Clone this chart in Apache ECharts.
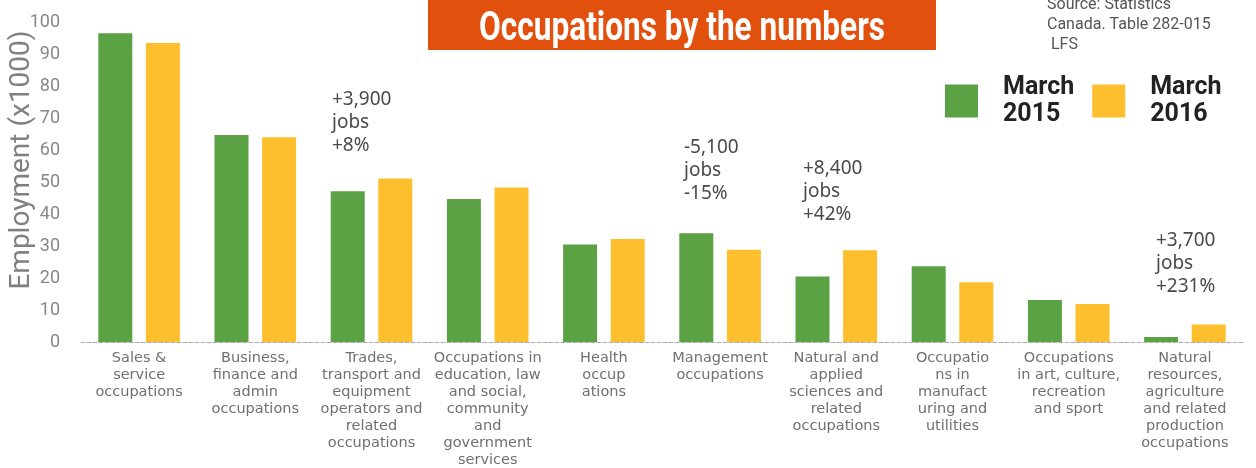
<!DOCTYPE html>
<html>
<head>
<meta charset="utf-8">
<script src="https://cdn.jsdelivr.net/npm/echarts@6/dist/echarts.min.js"></script>
<style>
  html, body { margin: 0; padding: 0; background: #fff; }
  #chart { width: 1256px; height: 468px; }
</style>
</head>
<body>
<div id="chart"></div>
<script>
// categories (line breaks as in the original labels)
var categories = [
  'Sales &\nservice\noccupations',
  'Business,\nfinance and\nadmin\noccupations',
  'Trades,\ntransport and\nequipment\noperators and\nrelated\noccupations',
  'Occupations in\neducation, law\nand social,\ncommunity\nand\ngovernment\nservices',
  'Health\noccup\nations',
  'Management\noccupations',
  'Natural and\napplied\nsciences and\nrelated\noccupations',
  'Occupatio\nns in\nmanufact\nuring and\nutilities',
  'Occupations\nin art, culture,\nrecreation\nand sport',
  'Natural\nresources,\nagriculture\nand related\nproduction\noccupations'
]
// employment, thousands
var march2015 = [96.5, 64.7, 47.1, 44.7, 30.5, 34.0, 20.5, 23.7, 13.1, 1.6]
var march2016 = [93.4, 64.0, 51.1, 48.3, 32.2, 28.8, 28.7, 18.7, 11.9, 5.5]
var yTicks = [0, 10, 20, 30, 40, 50, 60, 70, 80, 90, 100]
var notes = [
  { text: '+3,900\njobs\n+8%', left: 332, top: 88 },
  { text: '-5,100\njobs\n-15%', left: 684, top: 136 },
  { text: '+8,400\njobs\n+42%', left: 803, top: 157 },
  { text: '+3,700\njobs\n+231%', left: 1156, top: 229 }
]

var heavy = 'Roboto, "Noto Sans", sans-serif'
var green = '#5ba245'
var yellow = '#fdbf2d'

var myChart = echarts.init(document.getElementById('chart'))
var option = {
  animation: false,
  grid: {
    left: 81,
    right: 13,
    top: 22,
    bottom: 126,
    outerBoundsMode: 'none'
  },
  legend: {
    left: 940,
    top: 69,
    itemWidth: 33,
    itemHeight: 33,
    itemGap: 18,
    icon: 'rect',
    formatter: function(name) {
      return name.replace(' ', '\n')
    },
    textStyle: {
      fontFamily: heavy,
      fontWeight: 'bold',
      fontSize: 25,
      lineHeight: 27,
      color: '#222',
      padding: [0, 0, 0, 20]
    }
  },
  xAxis: {
    type: 'category',
    data: categories,
    axisTick: { show: false },
    axisLine: {
      lineStyle: { color: '#aaa', type: 'dashed', width: 1 }
    },
    axisLabel: {
      interval: 0,
      margin: 8,
      color: '#707070',
      fontFamily: '"DejaVu Sans", sans-serif',
      fontSize: 14.5,
      lineHeight: 17
    }
  },
  yAxis: {
    type: 'value',
    min: yTicks[0],
    max: yTicks[yTicks.length - 1],
    interval: 10,
    name: 'Employment (x1000)',
    nameLocation: 'middle',
    nameGap: 45,
    nameMoveOverlap: false,
    nameTextStyle: {
      color: '#808080',
      fontFamily: 'Roboto, sans-serif',
      fontSize: 28,
      padding: [0, 0, 0, 44] // nudge up along the axis
    },
    splitLine: { show: false },
    axisLine: { show: false },
    axisTick: { show: false },
    axisLabel: {
      color: '#888',
      fontFamily: 'Roboto, sans-serif',
      fontSize: 18,
      margin: 21
    }
  },
  series: [
    {
      name: 'March 2015',
      type: 'bar',
      data: march2015,
      barWidth: 34,
      barGap: '40%',
      itemStyle: { color: green }
    },
    {
      name: 'March 2016',
      type: 'bar',
      data: march2016,
      barWidth: 34,
      itemStyle: { color: yellow }
    }
  ],
  graphic: [
    {
      type: 'rect',
      left: 428,
      top: 0,
      shape: { width: 508, height: 50 },
      style: { fill: '#e2500e' }
    },
    {
      type: 'text',
      x: 682,
      y: 30,
      scaleX: 0.79,
      style: {
        text: 'Occupations by the numbers',
        fill: '#fff',
        font: 'bold 40px ' + heavy,
        align: 'center',
        verticalAlign: 'middle'
      }
    },
    {
      type: 'text',
      left: 1047,
      top: -5,
      style: {
        text: 'Source: Statistics\nCanada. Table 282-015\n LFS',
        fill: '#555',
        font: '16px Roboto, sans-serif',
        lineHeight: 20
      }
    }
  ].concat(notes.map(function(n) {
    return {
      type: 'text',
      left: n.left,
      top: n.top,
      style: {
        text: n.text,
        fill: '#4a4a4a',
        font: '19px "Noto Sans", sans-serif',
        lineHeight: 23
      }
    }
  }))
}
myChart.setOption(option)
window.onresize = myChart.resize
</script>
</body>
</html>
